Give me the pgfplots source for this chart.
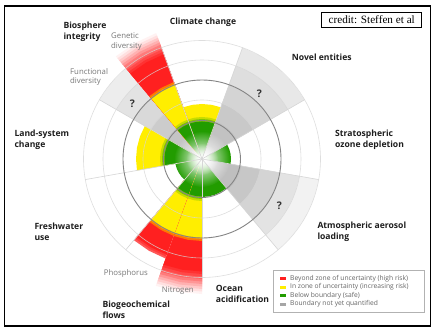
\documentclass[border=0pt]{standalone}
\usepackage{pgfplots}
\pgfplotsset{compat=1.18}
\usepackage{fontspec}
\setmainfont{Open Sans}
\newfontfamily\seriffont{Liberation Serif}
\usetikzlibrary{fadings}
\tikzfading[name=glow, inner color=transparent!0, outer color=transparent!100]
\definecolor{myred}{RGB}{255,32,32}
\definecolor{myyel}{RGB}{255,238,0}
\definecolor{mygrn}{RGB}{34,156,0}
\definecolor{myorg}{RGB}{255,120,0}
\definecolor{myorg2}{RGB}{255,180,0}
\definecolor{yg1}{RGB}{200,220,0}
\definecolor{yg2}{RGB}{130,196,0}
\definecolor{labc}{RGB}{30,30,30}
\definecolor{subc}{RGB}{120,120,120}
% wedge of 40 degrees (5 arc points) and of 20 degrees (3 arc points)
\newcommand{\WF}[7]{\addplot[data cs=polar, fill=#1, draw=none] coordinates {(#3,0) (#3,#2) (#4,#2) (#5,#2) (#6,#2) (#7,#2) (#7,0)} -- cycle;}
\newcommand{\WH}[5]{\addplot[data cs=polar, fill=#1, draw=none] coordinates {(#3,0) (#3,#2) (#4,#2) (#5,#2) (#5,0)} -- cycle;}
\newcommand{\secCC}[2]{\WF{#1}{#2}{70}{80}{90}{100}{110}}
\newcommand{\secNE}[2]{\WF{#1}{#2}{30}{40}{50}{60}{70}}
\newcommand{\secOZ}[2]{\WF{#1}{#2}{-10}{0}{10}{20}{30}}
\newcommand{\secAL}[2]{\WF{#1}{#2}{-50}{-40}{-30}{-20}{-10}}
\newcommand{\secOA}[2]{\WF{#1}{#2}{-90}{-80}{-70}{-60}{-50}}
\newcommand{\secPH}[2]{\WH{#1}{#2}{-130}{-120}{-110}}
\newcommand{\secNI}[2]{\WH{#1}{#2}{-110}{-100}{-90}}
\newcommand{\secFW}[2]{\WF{#1}{#2}{-170}{-160}{-150}{-140}{-130}}
\newcommand{\secLS}[2]{\WF{#1}{#2}{150}{160}{170}{180}{190}}
\newcommand{\secGD}[2]{\WH{#1}{#2}{110}{120}{130}}
\newcommand{\secFD}[2]{\WH{#1}{#2}{130}{140}{150}}
\begin{document}
\begin{tikzpicture}
\useasboundingbox (0,0) rectangle (437pt,333pt);
\fill[white] (0,0) rectangle (437pt,333pt);
\begin{axis}[width=437pt, height=333pt, scale only axis, at={(0,0)}, anchor=south west,
  xmin=-202, xmax=235, ymin=-174, ymax=159, hide axis, clip=false]
% --- boundaries not yet quantified (grey)
\secNE{black!9}{118.5} \secNE{black!13}{99} \secNE{black!17}{79} \secNE{black!21}{59} \secNE{black!24}{40}
\secAL{black!5}{118.5} \secAL{black!11}{99} \secAL{black!17}{79} \secAL{black!22}{59} \secAL{black!25}{40}
\secFD{black!7}{118.5} \secFD{black!11}{99} \secFD{black!15}{79} \secFD{black!20}{59} \secFD{black!23}{40}
% --- climate change
\secCC{myyel}{55} \secCC{yg1}{42} \secCC{yg2}{40} \secCC{mygrn}{37.5}
% --- stratospheric ozone
\secOZ{mygrn}{29}
% --- ocean acidification
\secOA{mygrn}{38}
% --- freshwater use
\secFW{mygrn}{27}
% --- land-system change
\secLS{myyel}{66} \secLS{yg1}{42} \secLS{yg2}{40} \secLS{mygrn}{37.5}
% --- biosphere integrity: genetic diversity
\secGD{myred!6}{134} \secGD{myred!14}{131.5} \secGD{myred!24}{129} \secGD{myred!35}{126.5} \secGD{myred!47}{124}
\secGD{myred!59}{121.5} \secGD{myred!71}{119} \secGD{myred!82}{116.5} \secGD{myred!92}{114} \secGD{myred}{111.5}
\secGD{myorg}{82} \secGD{myorg2}{80} \secGD{myyel}{78.5} \secGD{yg1}{42} \secGD{yg2}{40} \secGD{mygrn}{37.5}
% --- biogeochemical flows: phosphorus
\secPH{myred!75}{106} \secPH{myred!88}{104} \secPH{myred}{102}
\secPH{myorg}{82} \secPH{myorg2}{80} \secPH{myyel}{78.5} \secPH{yg1}{42} \secPH{yg2}{40} \secPH{mygrn}{37.5}
% --- biogeochemical flows: nitrogen
\secNI{myred!6}{135} \secNI{myred!14}{132.5} \secNI{myred!24}{130} \secNI{myred!35}{127.5} \secNI{myred!47}{125}
\secNI{myred!59}{122.5} \secNI{myred!71}{120} \secNI{myred!82}{117.5} \secNI{myred!92}{115} \secNI{myred}{112.5}
\secNI{myorg}{82} \secNI{myorg2}{80} \secNI{myyel}{78.5} \secNI{yg1}{42} \secNI{yg2}{40} \secNI{mygrn}{37.5}
\end{axis}
% centre glow
\fill[white, path fading=glow] (202pt,174pt) circle (28pt);
\fill[white, path fading=glow] (202pt,174pt) circle (16pt);
% grid
\begin{scope}[black!16, line width=0.6pt]
\foreach \a in {70,30,-10,-50,-90,-130,-170,150,110} \draw (202pt,174pt) -- ++(\a:118.5pt);
\draw[opacity=0.8] (202pt,174pt) circle (59pt);
\draw[opacity=0.8] (202pt,174pt) circle (99pt);
\draw[opacity=0.8] (202pt,174pt) circle (118.5pt);
\end{scope}
\draw[black!48, line width=0.9pt] (202pt,174pt) circle (38.5pt);
\draw[black!48, line width=0.9pt] (202pt,174pt) circle (79pt);
% labels
\tikzset{lab/.style={inner sep=0pt, align=left, text=labc, font=\bfseries\fontsize{8.6}{11}\selectfont},
         sub/.style={inner sep=0pt, align=left, text=subc, font=\fontsize{7.8}{9.6}\selectfont},
         qm/.style={inner sep=0pt, text=black!80, font=\bfseries\fontsize{10.5}{12}\selectfont}}
\node[lab, anchor=west] at (63.3pt,300.8pt) {Biosphere\\integrity};
\node[sub, anchor=west] at (111pt,291.5pt) {Genetic\\diversity};
\node[lab] at (203pt,311pt) {Climate change};
\node[lab, anchor=west] at (291.7pt,275.7pt) {Novel entities};
\node[sub, anchor=west] at (70pt,256pt) {Functional\\diversity};
\node[lab, anchor=west] at (335pt,193.5pt) {Stratospheric\\ozone depletion};
\node[lab, anchor=west] at (14.3pt,193.7pt) {Land-system\\change};
\node[lab, anchor=west] at (34.3pt,100.8pt) {Freshwater\\use};
\node[lab, anchor=west] at (317.3pt,100.8pt) {Atmospheric aerosol\\loading};
\node[sub, anchor=west] at (103.7pt,59.7pt) {Phosphorus};
\node[sub, anchor=west] at (161.7pt,42pt) {Nitrogen};
\node[lab, anchor=west] at (215.7pt,38.7pt) {Ocean\\acidification};
\node[lab, anchor=west] at (102.3pt,23pt) {Biogeochemical\\flows};
\node[qm] at (259.3pt,239.7pt) {?};
\node[qm] at (132.3pt,229pt) {?};
\node[qm] at (279.3pt,127pt) {?};
% credit
\draw[black, line width=0.8pt] (321.7pt,305.7pt) rectangle (421.7pt,320.3pt);
\node[inner sep=0pt, font=\seriffont\fontsize{11.2}{13}\selectfont] at (371.7pt,313.2pt) {credit: Steffen et al};
% legend
\draw[black!30, line width=0.6pt] (273.3pt,20.7pt) rectangle (424.3pt,62.3pt);
\fill[myred] (279.7pt,53.2pt) rectangle (285.7pt,56.2pt);
\fill[myyel] (279.7pt,44.5pt) rectangle (285.7pt,47.5pt);
\fill[mygrn] (279.7pt,36.2pt) rectangle (285.7pt,39.2pt);
\fill[black!35] (279.7pt,27.5pt) rectangle (285.7pt,30.5pt);
\tikzset{leg/.style={inner sep=0pt, anchor=west, text=black!60, font=\fontsize{6.7}{8}\selectfont}}
\node[leg] at (290pt,54.7pt) {Beyond zone of uncertainty (high risk)};
\node[leg] at (290pt,46pt) {In zone of uncertainty (increasing risk)};
\node[leg] at (290pt,37.7pt) {Below boundary (safe)};
\node[leg] at (290pt,29pt) {Boundary not yet quantified};
% frame
\draw[black, line width=1.2pt] (4.3pt,7pt) rectangle (430.7pt,327pt);
\end{tikzpicture}
\end{document}
